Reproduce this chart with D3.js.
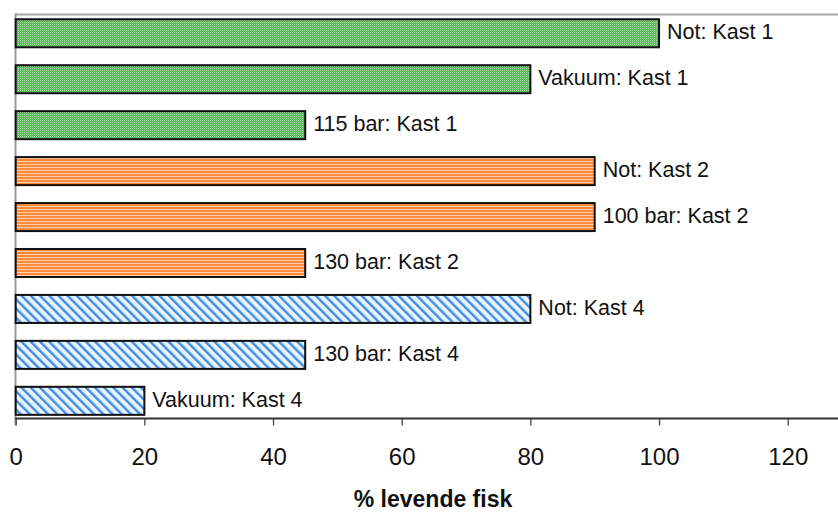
<!DOCTYPE html>
<html>
<head>
<meta charset="utf-8">
<script src="https://cdn.jsdelivr.net/npm/d3@7"></script>
<style>
  html, body { margin: 0; padding: 0; background: #fff; }
  svg { display: block; font-family: "Liberation Sans", Arial, sans-serif; }
</style>
</head>
<body>
<svg id="chart" width="838" height="514"></svg>
<script>
// Survival per haul and treatment
const categories = [
  "Not: Kast 1", "Vakuum: Kast 1", "115 bar: Kast 1",
  "Not: Kast 2", "100 bar: Kast 2", "130 bar: Kast 2",
  "Not: Kast 4", "130 bar: Kast 4", "Vakuum: Kast 4"
];
const values = [100, 80, 45, 90, 90, 45, 80, 45, 20];
const groups = ["kast1", "kast1", "kast1", "kast2", "kast2", "kast2", "kast4", "kast4", "kast4"];
const xTicks = [0, 20, 40, 60, 80, 100, 120];
const xTitle = "% levende fisk";

const W = 838, H = 514;
const svg = d3.select("#chart");

// Fill patterns per haul
const defs = svg.append("defs");

const pGreen = defs.append("pattern").attr("id", "pat-kast1")
  .attr("patternUnits", "userSpaceOnUse").attr("width", 2).attr("height", 2);
pGreen.append("rect").attr("width", 2).attr("height", 2).attr("fill", "#52b352");
pGreen.append("rect").attr("x", 0).attr("y", 0).attr("width", 1).attr("height", 1).attr("fill", "#a8dca8");
pGreen.append("rect").attr("x", 1).attr("y", 1).attr("width", 1).attr("height", 1).attr("fill", "#6cc46c");

const pOrange = defs.append("pattern").attr("id", "pat-kast2")
  .attr("patternUnits", "userSpaceOnUse").attr("width", 4).attr("height", 3);
pOrange.append("rect").attr("width", 4).attr("height", 3).attr("fill", "#ff8a3d");
pOrange.append("rect").attr("y", 2).attr("width", 4).attr("height", 1).attr("fill", "#ffcfa6");

const pBlue = defs.append("pattern").attr("id", "pat-kast4")
  .attr("patternUnits", "userSpaceOnUse").attr("width", 6.5).attr("height", 6.5)
  .attr("patternTransform", "rotate(-45)");
pBlue.append("rect").attr("width", 6.5).attr("height", 6.5).attr("fill", "#eaf3fd");
pBlue.append("rect").attr("x", 0).attr("y", 0).attr("width", 2.4).attr("height", 6.5).attr("fill", "#3f8ee4");

const fillFor = g => `url(#pat-${g})`;

// Scales
const x = d3.scaleLinear().domain([0, 120]).range([15.7, 787.7]);
const y = d3.scaleBand().domain(categories)
  .range([10.3, 423.8]).paddingInner(0.39).paddingOuter(0.195);

const plotTop = 14.5, axisY = 418.5, plotRight = W;

// Frame lines
svg.append("line").attr("x1", 15).attr("x2", plotRight).attr("y1", plotTop).attr("y2", plotTop)
  .attr("stroke", "#a6a6a6").attr("stroke-width", 2);
svg.append("line").attr("x1", 15.5).attr("x2", 15.5).attr("y1", plotTop - 1).attr("y2", axisY + 7)
  .attr("stroke", "#9a9a9a").attr("stroke-width", 2);

// Bars
svg.append("g").selectAll("rect").data(categories).join("rect")
  .attr("x", x(0))
  .attr("y", d => y(d))
  .attr("width", (d, i) => x(values[i]) - x(0))
  .attr("height", y.bandwidth())
  .attr("fill", (d, i) => fillFor(groups[i]))
  .attr("stroke", "#111")
  .attr("stroke-width", 2);

// Bar labels
svg.append("g").selectAll("text").data(categories).join("text")
  .attr("x", (d, i) => x(values[i]) + 8)
  .attr("y", d => y(d) + y.bandwidth() / 2 + 6)
  .attr("font-size", 21.5)
  .attr("fill", "#111")
  .text(d => d);

// X axis
const axis = d3.axisBottom(x).tickValues(xTicks).tickSize(7).tickPadding(20).tickFormat(d3.format("d"));
const gx = svg.append("g").attr("transform", `translate(0,${axisY})`).call(axis);
gx.select(".domain").remove();
gx.append("line").attr("x1", 15).attr("x2", plotRight).attr("y1", 0).attr("y2", 0)
  .attr("stroke", "#333").attr("stroke-width", 2);
gx.selectAll(".tick line").attr("stroke", "#444").attr("stroke-width", 1.3);
gx.selectAll(".tick text").attr("font-size", 24).attr("fill", "#111")
  .attr("font-family", "Liberation Sans, Arial, sans-serif")
  .attr("dy", null).attr("y", 46.5);

// Axis title
svg.append("text")
  .attr("x", 433).attr("y", 507)
  .attr("text-anchor", "middle")
  .attr("font-size", 23).attr("font-weight", "bold").attr("fill", "#111")
  .text(xTitle);
</script>
</body>
</html>
